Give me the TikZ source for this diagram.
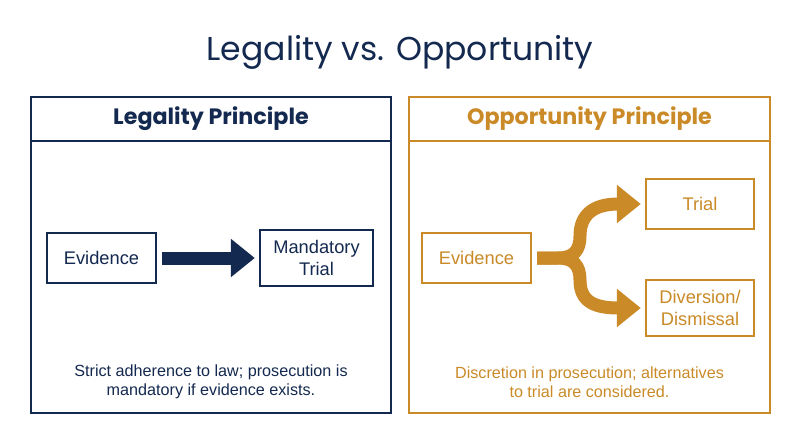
\documentclass[tikz,border=0pt]{standalone}
\usepackage{fontspec}
\setmainfont{Liberation Sans}
\newfontfamily\poppins{Poppins}
\usetikzlibrary{arrows.meta,positioning}
\definecolor{LegalNavy}{HTML}{14294F}
\definecolor{OppGold}{HTML}{C98A27}
\tikzset{
    % Base box style
    basebox/.style={
        draw,
        line width=1.7pt,
        fill=white,
        align=center,
        inner sep=2pt,
        minimum width=2.725cm,
        minimum height=1.25cm,
        font=\fontsize{13}{15.6}\selectfont
    },
    % Legality side box
    legalbox/.style={
        basebox,
        draw=LegalNavy,
        text=LegalNavy
    },
    % Opportunity side box
    oppbox/.style={
        basebox,
        draw=OppGold,
        text=OppGold
    },
    % Panel frame
    panelframe/.style={
        line width=1.4pt
    },
    % Panel heading
    headtext/.style={
        font=\poppins\bfseries\fontsize{15.8}{19}\selectfont
    },
    % Caption below the boxes
    captiontext/.style={
        align=center,
        font=\fontsize{11.5}{13.5}\selectfont
    },
    % Thick block arrow
    bigarrow/.style={
        -{Triangle[length=0.6cm,width=0.925cm]},
        line width=0.325cm,
        shorten <=0.125cm,
        shorten >=0.1cm
    }
}
\begin{document}
\begin{tikzpicture}[x=0.025cm, y=-0.025cm]
    \useasboundingbox (0,0) rectangle (800,447);

    % Title
    \node[font=\poppins\fontsize{23.5}{28}\selectfont, text=LegalNavy] (title) at (400,52) {Legality vs. Opportunity};

    % Panels
    \draw[panelframe, draw=LegalNavy] (31,97) rectangle (391,413);
    \draw[panelframe, draw=LegalNavy] (31,141) -- (391,141);
    \draw[panelframe, draw=OppGold] (409,97) rectangle (770,413);
    \draw[panelframe, draw=OppGold] (409,141) -- (770,141);

    % Headings
    \node[headtext, text=LegalNavy] (legalhead) at (211,119) {Legality Principle};
    \node[headtext, text=OppGold] (opphead) at (589.5,119) {Opportunity Principle};

    % Legality side
    \node[legalbox] (ev1) at (101.5,258) {Evidence};
    \node[legalbox, minimum width=2.825cm, minimum height=1.4cm] (mandatory) at (316.5,258) {Mandatory\\Trial};
    \draw[bigarrow, draw=LegalNavy] (ev1) -- (mandatory);

    % Opportunity side
    \node[oppbox] (ev2) at (476.5,258) {Evidence};
    \node[oppbox, minimum width=2.7cm] (trial) at (700,204) {Trial};
    \node[oppbox, minimum width=2.7cm, minimum height=1.4cm] (diversion) at (700,308) {Diversion/\\Dismissal};

    % Fork arrows
    \draw[bigarrow, draw=OppGold] (ev2.east) -- (558,258)
        .. controls (574,258) and (580,250) .. (580,236)
        .. controls (580,216) and (592,204) .. (trial.west);
    \draw[bigarrow, draw=OppGold] (ev2.east) -- (558,258)
        .. controls (574,258) and (580,266) .. (580,280)
        .. controls (580,300) and (592,308) .. (diversion.west);

    % Captions
    \node[captiontext, text=LegalNavy] (legalcap) at (211,382) {Strict adherence to law; prosecution is\\mandatory if evidence exists.};
    \node[captiontext, text=OppGold] (oppcap) at (589.5,382) {Discretion in prosecution; alternatives\\to trial are considered.};
\end{tikzpicture}
\end{document}
